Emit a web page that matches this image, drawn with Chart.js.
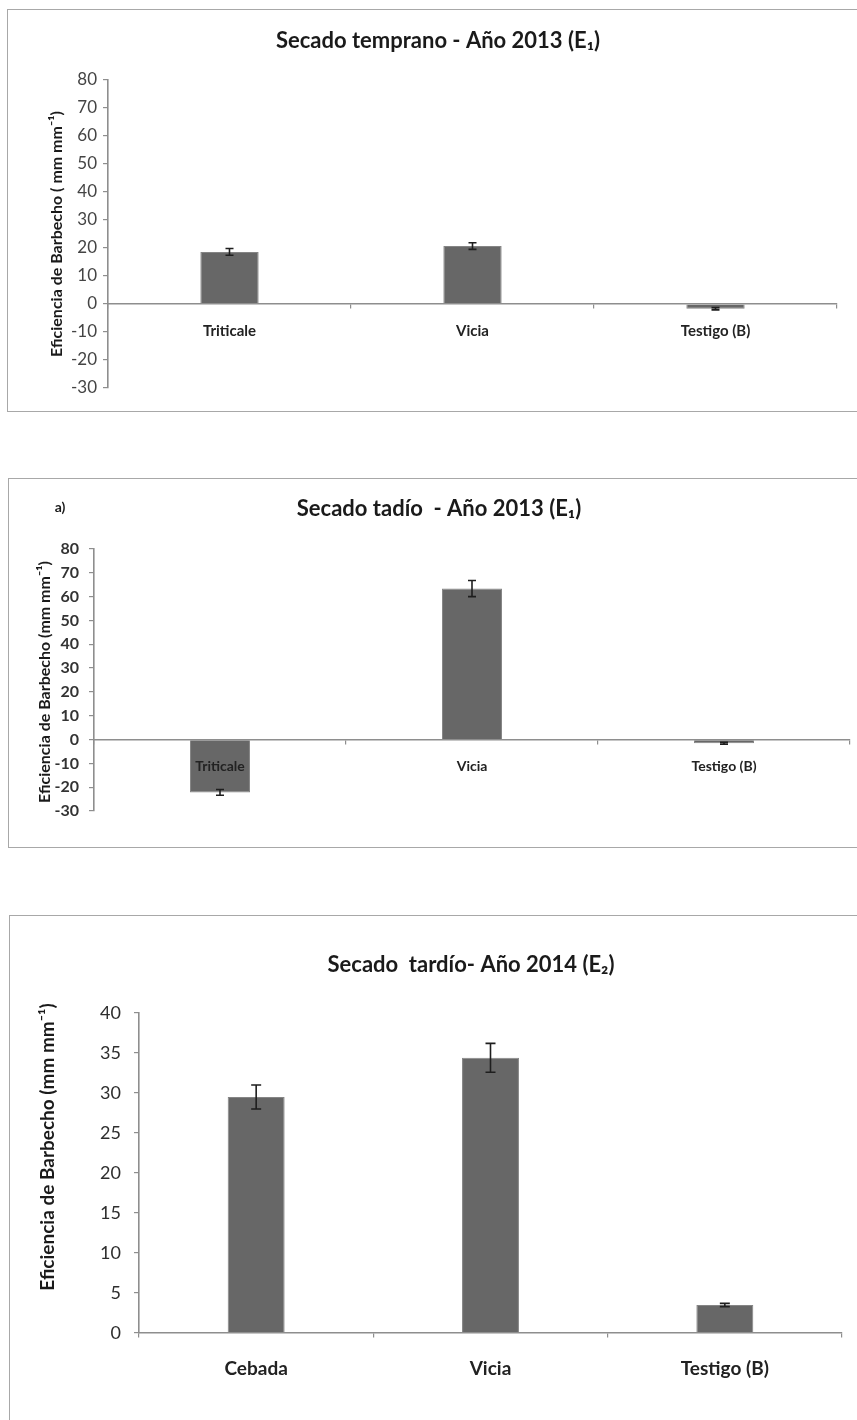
<!DOCTYPE html>
<html>
<head>
<meta charset="utf-8">
<script src="https://cdn.jsdelivr.net/npm/chart.js@4.4.1/dist/chart.umd.min.js"></script>
<style>
  html, body { margin: 0; padding: 0; background: #ffffff; }
  body { width: 857px; height: 1420px; position: relative; overflow: hidden; }
  .frame { position: absolute; border: 1.5px solid #a8a8a8; border-right: none; box-sizing: border-box; }
  .wrap { position: absolute; left: 0; width: 857px; }
  canvas { display: block; }
</style>
</head>
<body>
<div class="frame" style="left:7px; top:9px; width:870px; height:403px;"></div>
<div class="frame" style="left:8px; top:478px; width:870px; height:370px;"></div>
<div class="frame" style="left:9px; top:915px; width:870px; height:520px;"></div>

<div class="wrap" style="top:0px; height:420px;"><canvas id="c1" width="857" height="420"></canvas></div>
<div class="wrap" style="top:460px; height:400px;"><canvas id="c2" width="857" height="400"></canvas></div>
<div class="wrap" style="top:880px; height:540px;"><canvas id="c3" width="857" height="540"></canvas></div>

<script>
// Early drying, 2013 (E1)
const categories1 = ['Triticale', 'Vicia', 'Testigo (B)'];
const values1 = [18.6, 20.7, -1.7];
const errors1 = [1.2, 1.2, 0.4];
const yTicks1 = { min: -30, max: 80, step: 10 };

// Late drying, 2013 (E1)
const categories2 = ['Triticale', 'Vicia', 'Testigo (B)'];
const values2 = [-22.2, 63.4, -1.6];
const errors2 = [1.2, 3.4, 0.4];
const yTicks2 = { min: -30, max: 80, step: 10 };

// Late drying, 2014 (E2)
const categories3 = ['Cebada', 'Vicia', 'Testigo (B)'];
const values3 = [29.5, 34.4, 3.5];
const errors3 = [1.5, 1.8, 0.2];
const yTicks3 = { min: 0, max: 40, step: 5 };

const FONT = 'Lato, "Open Sans", "DejaVu Sans", sans-serif';

// Error bars drawn through the chart's own scales
const errorBars = {
  id: 'errorBars',
  afterDatasetsDraw(chart, args, opts) {
    const ctx = chart.ctx;
    const meta = chart.getDatasetMeta(0);
    const y = chart.scales.y;
    const vals = chart.data.datasets[0].data;
    const errs = opts.errors || [];
    ctx.save();
    ctx.strokeStyle = opts.color || '#1e1e1e';
    ctx.lineWidth = opts.width || 1.5;
    meta.data.forEach((bar, i) => {
      const e = errs[i];
      if (!e) return;
      const x = bar.x;
      const hi = y.getPixelForValue(vals[i] + e);
      const lo = y.getPixelForValue(vals[i] - e);
      const c = opts.cap || 4;
      ctx.beginPath();
      ctx.moveTo(x, hi); ctx.lineTo(x, lo);
      ctx.moveTo(x - c, hi); ctx.lineTo(x + c, hi);
      ctx.moveTo(x - c, lo); ctx.lineTo(x + c, lo);
      ctx.stroke();
    });
    ctx.restore();
  }
};

// Free-standing text: chart title, panel letter and rotated y-axis title
const panelText = {
  id: 'panelText',
  afterDraw(chart, args, opts) {
    const ctx = chart.ctx;
    (opts.items || []).forEach(t => {
      ctx.save();
      ctx.fillStyle = t.color || '#1a1a1a';
      ctx.font = t.font;
      ctx.textAlign = 'center';
      ctx.textBaseline = 'middle';
      ctx.translate(t.x, t.y);
      if (t.rotate) ctx.rotate(t.rotate);
      ctx.fillText(t.text, 0, 0);
      ctx.restore();
    });
  }
};

function makeChart(id, cats, vals, errs, yt, s) {
  return new Chart(document.getElementById(id), {
    type: 'bar',
    data: {
      labels: cats,
      datasets: [{
        data: vals,
        backgroundColor: '#676767',
        borderColor: '#858585',
        borderWidth: 1,
        categoryPercentage: 1,
        barPercentage: s.barPct
      }]
    },
    options: {
      responsive: false,
      animation: false,
      layout: { padding: s.padding },
      plugins: {
        legend: { display: false },
        tooltip: { enabled: false },
        title: { display: false },
        errorBars: { errors: errs, cap: s.cap, width: 1.6, color: '#1e1e1e' },
        panelText: { items: s.texts }
      },
      scales: {
        x: {
          position: { y: 0 },
          offset: true,
          grid: { offset: true, drawOnChartArea: false, drawTicks: true, tickLength: 4, color: '#8e8e8e', lineWidth: 1.2, z: 1 },
          border: { display: true, color: '#8e8e8e', width: 1.6, z: 1 },
          ticks: { z: 2, color: '#222222', font: { family: FONT, size: s.catSize, weight: 'bold' }, padding: s.catPad, maxRotation: 0, autoSkip: false }
        },
        y: {
          min: yt.min, max: yt.max,
          afterFit(scale) { scale.width = s.yWidth; },
          grid: { drawOnChartArea: false, drawTicks: true, tickLength: 5, color: '#8e8e8e', lineWidth: 1.2 },
          border: { display: true, color: '#8e8e8e', width: 1.6 },
          ticks: {
            stepSize: yt.step, padding: s.tickPad, color: s.tickColor,
            font: { family: FONT, size: s.tickSize, weight: s.tickWeight },
            callback: v => String(v)
          }
        }
      }
    },
    plugins: [errorBars, panelText]
  });
}

makeChart('c1', categories1, values1, errors1, yTicks1, {
  barPct: 0.24, cap: 4, yWidth: 108,
  padding: { top: 80, bottom: 32, left: 0, right: 20 },
  catSize: 15, catPad: 14, tickSize: 17, tickWeight: 'normal', tickPad: 6, tickColor: '#444444',
  texts: [
    { text: 'Secado temprano - Año 2013 (E\u2081)', x: 438, y: 41, font: 'bold 22px ' + FONT },
    { text: 'Eficiencia de Barbecho ( mm mm\u207B\u00B9)', x: 57, y: 234, rotate: -Math.PI / 2, font: 'bold 16px ' + FONT }
  ]
});

makeChart('c2', categories2, values2, errors2, yTicks2, {
  barPct: 0.238, cap: 4, yWidth: 94,
  padding: { top: 89, bottom: 49, left: 0, right: 7 },
  catSize: 14, catPad: 15, tickSize: 16, tickWeight: 'bold', tickPad: 10, tickColor: '#333333',
  texts: [
    { text: 'a)', x: 60, y: 47, font: 'bold 14px ' + FONT },
    { text: 'Secado tadío  - Año 2013 (E\u2081)', x: 439, y: 49, font: 'bold 22px ' + FONT },
    { text: 'Eficiencia de Barbecho (mm mm\u207B\u00B9)', x: 45, y: 222, rotate: -Math.PI / 2, font: 'bold 16px ' + FONT }
  ]
});

makeChart('c3', categories3, values3, errors3, yTicks3, {
  barPct: 0.243, cap: 5, yWidth: 139,
  padding: { top: 133, bottom: 87, left: 0, right: 15 },
  catSize: 19, catPad: 20, tickSize: 18, tickWeight: 'normal', tickPad: 13, tickColor: '#2e2e2e',
  texts: [
    { text: 'Secado  tardío- Año 2014 (E\u2082)', x: 471, y: 85, font: 'bold 22px ' + FONT },
    { text: 'Eficiencia de Barbecho (mm mm\u207B\u00B9)', x: 48, y: 267, rotate: -Math.PI / 2, font: 'bold 19px ' + FONT }
  ]
});
</script>
</body>
</html>
